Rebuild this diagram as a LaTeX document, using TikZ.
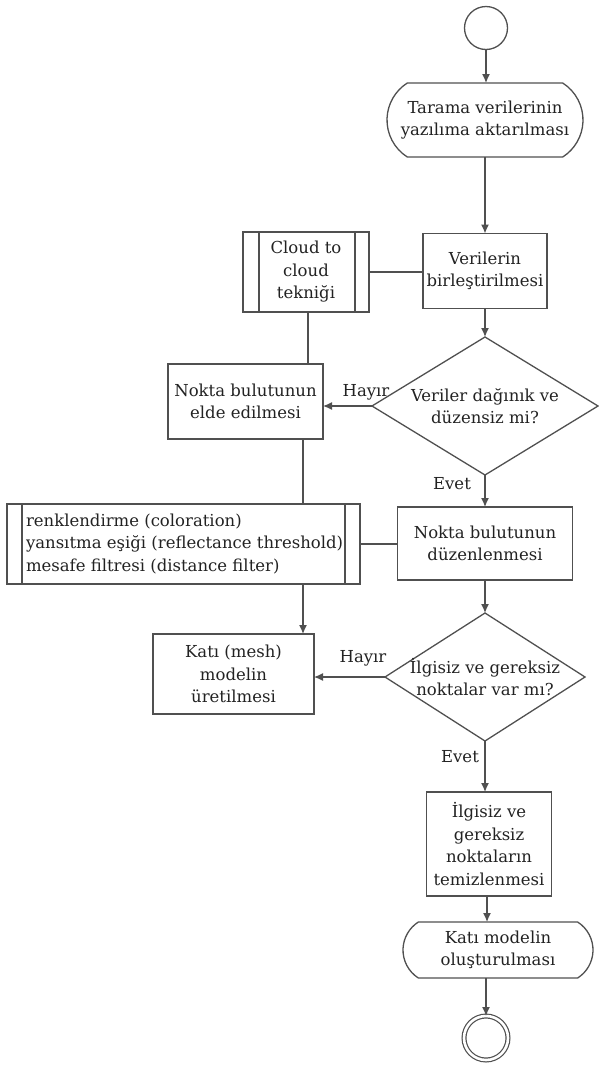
\documentclass[tikz,border=0pt]{standalone}
\usepackage{fontspec}
\setmainfont{DejaVu Serif}
\usetikzlibrary{shapes.geometric,shapes.misc,arrows.meta}
\definecolor{lnc}{HTML}{505050}
\definecolor{txc}{HTML}{222222}
\begin{document}
\begin{tikzpicture}[x=1pt,y=-1pt,
  every node/.style={text=txc, font=\fontsize{16.5}{22.5}\selectfont, inner sep=0pt, outer sep=0pt},
  box/.style={draw=lnc, line width=1.3pt, rectangle, align=center},
  term/.style={draw=lnc, line width=1.3pt, rounded rectangle, rounded rectangle arc length=115, align=center},
  dec/.style={draw=lnc, line width=1.3pt, diamond},
  arr/.style={draw=lnc, line width=1.3pt, -{Latex[length=9pt,width=8pt]}},
  link/.style={draw=lnc, line width=1.3pt},
  lbl/.style={text=txc}
]
\useasboundingbox (0,0) rectangle (598,1066);

% nodes
\node[circle, draw=lnc, line width=1.3pt, minimum size=43] (start) at (486,28) {};
\node[term, minimum width=196, minimum height=74] (t1) at (485,120) {Tarama verilerinin\\yazılıma aktarılması};
\node[box, minimum width=124, minimum height=75] (ver) at (485,271) {Verilerin\\birleştirilmesi};
\node[box, minimum width=126, minimum height=80] (cloud) at (306,272) {Cloud to\\cloud\\tekniği};
\node[dec, minimum width=226, minimum height=138] (d1) at (485,406) {};
\node at (d1) [align=center] {Veriler dağınık ve\\düzensiz mi?};
\node[box, minimum width=155, minimum height=75] (elde) at (245.5,401.5) {Nokta bulutunun\\elde edilmesi};
\node[box, minimum width=175, minimum height=73] (duz) at (485,543.5) {Nokta bulutunun\\düzenlenmesi};
\node[box, minimum width=353, minimum height=80] (filt) at (183.5,544) {};
\node[anchor=west, align=left] (filttxt) at (26,544) {renklendirme (coloration)\\yansıtma eşiği (reflectance threshold)\\mesafe filtresi (distance filter)};
\node[box, minimum width=161, minimum height=80] (mesh) at (233.5,674) {Katı (mesh)\\modelin\\üretilmesi};
\node[dec, minimum width=200, minimum height=128] (d2) at (485,677) {};
\node at (d2) [align=center] {İlgisiz ve gereksiz\\noktalar var mı?};
\node[box, minimum width=125, minimum height=104] (clean) at (489,844) {İlgisiz ve\\gereksiz\\noktaların\\temizlenmesi};
\node[term, minimum width=190, minimum height=56] (t2) at (498,950) {Katı modelin\\oluşturulması};
\node[circle, draw=lnc, line width=1.2pt, double, double distance=2.6pt, minimum size=44] (end) at (486,1038) {};

% sub-process inner lines
\draw[link] ([xshift=16pt]cloud.north west) -- ([xshift=16pt]cloud.south west);
\draw[link] ([xshift=-14pt]cloud.north east) -- ([xshift=-14pt]cloud.south east);
\draw[link] ([xshift=15pt]filt.north west) -- ([xshift=15pt]filt.south west);
\draw[link] ([xshift=-15pt]filt.north east) -- ([xshift=-15pt]filt.south east);

% labels
\node[lbl] (h1) at (366,392) {Hayır};
\node[lbl] (e1) at (452,484) {Evet};
\node[lbl] (h2) at (363,658) {Hayır};
\node[lbl] (e2) at (460,757) {Evet};

% connectors
\draw[arr] (start.south) -- (start.south |- t1.north);
\draw[arr] (t1.south) -- (t1.south |- ver.north);
\draw[link] (cloud.east) -- (cloud.east -| ver.west);
\draw[link] ([xshift=2pt]cloud.south) -- ([xshift=2pt]cloud.south |- elde.north);
\draw[arr] (ver.south) -- (d1.north);
\draw[arr] (d1.west) -- (d1.west -| elde.east);
\draw[arr] (d1.south) -- (d1.south |- duz.north);
\draw[link] ([xshift=-3pt]cloud.south |- elde.south) -- ([xshift=-3pt]cloud.south |- filt.north);
\draw[link] (filt.east) -- (filt.east -| duz.west);
\draw[arr] ([xshift=-3pt]cloud.south |- filt.south) -- ([xshift=-3pt]cloud.south |- mesh.north);
\draw[arr] (duz.south) -- (duz.south |- d2.north);
\draw[arr] (d2.west) -- (d2.west -| mesh.east);
\draw[arr] (d2.south) -- (d2.south |- clean.north);
\draw[arr] ([xshift=-2pt]clean.south) -- ([xshift=-2pt]clean.south |- t2.north);
\draw[arr] (end.north |- t2.south) -- (end.north);
\end{tikzpicture}
\end{document}
